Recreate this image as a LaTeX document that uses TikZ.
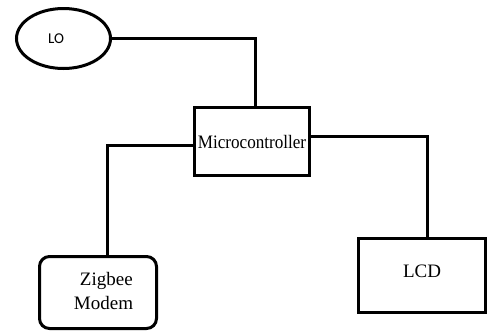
\documentclass[tikz,border=0pt]{standalone}
\usepackage{fontspec}
\setmainfont{Liberation Serif}
\newfontfamily\lofont{Carlito}
\usepackage{graphicx}
\usetikzlibrary{shapes.geometric}

\begin{document}
\begin{tikzpicture}
    [ x=1pt, y=-1pt,
      line width=3pt,
      font={\fontsize{19}{24}\selectfont},
      block/.style={draw, rectangle, inner sep=0pt},
      osc/.style={draw, ellipse, inner sep=0pt, minimum width=94pt, minimum height=60pt,
                  font={\lofont\fontsize{15}{17}\selectfont}},
      modem/.style={block, rounded corners=10pt, minimum width=117pt, minimum height=72pt},
      wire/.style={draw, line width=3pt}
    ]
    \useasboundingbox (0, 0) rectangle (488, 333);

    % Blocks
    \node[osc] (lo) at (63.5, 38.5) {LO\hspace*{15pt}};
    \node[block, minimum width=115pt, minimum height=68pt] (mc) at (252, 141.5)
        {\scalebox{0.9}[1]{Microcontroller}};
    \node[modem] (zb) at (98, 292.5)
        {\hspace*{11pt}\begin{tabular}{@{}l@{}}\hspace*{6pt}Zigbee\\Modem\end{tabular}};
    \node[block, minimum width=127pt, minimum height=74pt, text depth=8pt] (lcd) at (422, 275.5) {LCD};

    % Wires
    \draw[wire] (lo.east) -| ([xshift=3pt]mc.north);
    \draw[wire] ([yshift=-3.5pt]mc.west) -| ([xshift=9pt]zb.north);
    \draw[wire] ([yshift=5.5pt]mc.east) -| ([xshift=5pt]lcd.north);

\end{tikzpicture}
\end{document}
